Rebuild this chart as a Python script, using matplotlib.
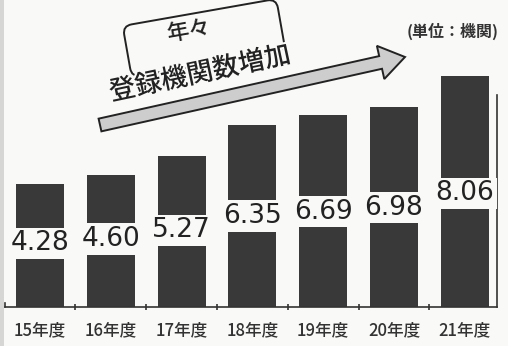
import matplotlib
matplotlib.use('agg')
import matplotlib.pyplot as plt
from matplotlib.patches import FancyBboxPatch, FancyArrow, Rectangle
from matplotlib.transforms import Affine2D, IdentityTransform
import matplotlib.patheffects as pe
import numpy as np

years = ['15年度', '16年度', '17年度', '18年度', '19年度', '20年度', '21年度']
counts = [4.28, 4.60, 5.27, 6.35, 6.69, 6.98, 8.06]
unit_label = '(単位：機関)'
note_top = '年々'
note_main = '登録機関数増加'

W, H = 508, 346
bg = '#f9f9f7'
bar_col = '#393939'

plt.rcParams['font.family'] = ['Noto Sans CJK JP', 'DejaVu Sans']

fig = plt.figure(figsize=(W / 100, H / 100), dpi=100, facecolor=bg)

def fx(x):
  return x / W

def fy(y):
  return 1 - y / H

# main axes: baseline at y=307px, ~28.7 px per unit
ax = fig.add_axes([fx(5), fy(307), 492 / W, 307 / H])
ax.set_facecolor('none')
x = np.arange(len(years))
ax.bar(x, counts, width=0.68, color=bar_col, zorder=2)
ax.set_xlim(-0.494, 6.455)
ax.set_ylim(0, 307 / 28.7)

for xi, v in zip(x, counts):
  ax.text(xi, 0.46 * v + 0.25, f'{v:.2f}', ha='center', va='center',
          fontsize=19, family='DejaVu Sans', color='#222222', zorder=3,
          bbox=dict(boxstyle='square,pad=0.1', fc=bg, ec='none'))

ax.spines['top'].set_visible(False)
ax.spines['left'].set_bounds(0, 0.15)
ax.spines['right'].set_bounds(0, (307 - 95) / 28.7)
for s in ['left', 'right', 'bottom']:
  ax.spines[s].set_color('#333333')
  ax.spines[s].set_linewidth(1.2)

ax.set_yticks([])
ax.set_xticks(x, years)
ax.set_xticks(x[:-1] + 0.5, minor=True)
ax.tick_params(axis='x', which='major', length=0, labelsize=12,
               labelcolor='#333333', pad=10)
for lab in ax.get_xticklabels():
  lab.set_fontweight('medium')
ax.tick_params(axis='x', which='minor', length=4, direction='inout',
               color='#333333', width=1.2)

# scan strip on the left edge
fig.patches.append(Rectangle((0, 0), 4 / W, 1, transform=fig.transFigure,
                             fc='#d6d6d4', ec='none'))

# rounded note box, tilted
box = FancyBboxPatch((-78, -26), 156, 52, boxstyle='round,pad=0,rounding_size=9',
                     fc='none', ec='#222222', lw=1.4,
                     transform=Affine2D().rotate_deg(10).translate(204, H - 38)
                     + IdentityTransform())
fig.patches.append(box)

# rising arrow
arr = FancyArrow(100, H - 125, 305, 68, width=13, head_width=34, head_length=25,
                 length_includes_head=True, fc='#cdcdcd', ec='#222222', lw=1.4,
                 transform=IdentityTransform())
fig.patches.append(arr)

fig.text(fx(188), fy(31), note_top, ha='center', va='center', rotation=10,
         fontsize=16, color='#222222', fontweight='medium')
fig.text(fx(200), fy(74), note_main, ha='center', va='center', rotation=12,
         fontsize=19, color='#222222', fontweight='medium',
         path_effects=[pe.withStroke(linewidth=3, foreground=bg)])
fig.text(fx(453), fy(31), unit_label, ha='center', va='center',
         fontsize=11.5, color='#333333', fontweight='bold')

fig.savefig('out.png', dpi=100, facecolor=bg)
